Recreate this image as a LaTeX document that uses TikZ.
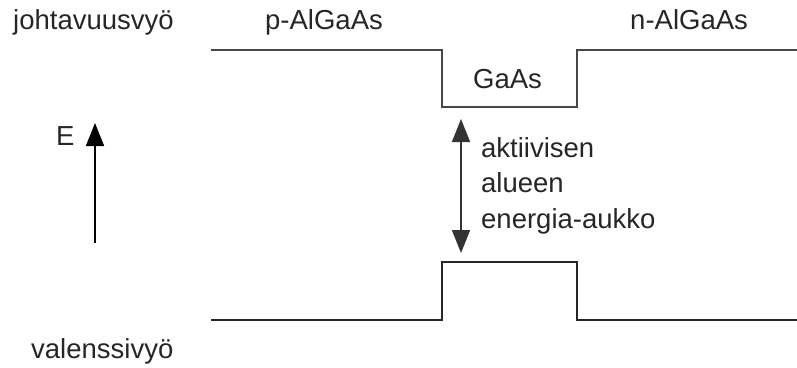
\documentclass[tikz,border=0pt]{standalone}
\usepackage{fontspec}
\setmainfont{Liberation Sans}
\usetikzlibrary{arrows.meta}
\begin{document}
\begin{tikzpicture}[x=1pt,y=-1pt,
  lbl/.style={anchor=base west,inner sep=0pt,text=black!85,font=\fontsize{27.5}{35.5}\selectfont},
  band/.style={draw=black!72,line width=2pt,line join=miter},
  energyarrow/.style={draw=black,line width=1.6pt,-{Triangle[length=23pt,width=18pt]}},
  gaparrow/.style={draw=black!80,line width=1.6pt,{Triangle[length=23pt,width=18pt]}-{Triangle[length=23pt,width=18pt]}}]
\useasboundingbox (0,0) rectangle (797,367);
% labels
\node[lbl] (cb) at (13,29) {johtavuusvyö};
\node[lbl] (pal) at (265,29) {p-AlGaAs};
\node[lbl] (nal) at (630,29) {n-AlGaAs};
\node[lbl] (gaas) at (473,88) {GaAs};
\node[lbl] (vb) at (31,358) {valenssivyö};
\node[lbl] (E) at (56,145) {E};
% a multi-line node sits on the baseline of its last line
\node[lbl,align=left] (gap) at (481,228) {aktiivisen\\alueen\\energia-aukko};
% conduction band edge
\draw[band] (211,50) -- (442,50) -- (442,107) -- (577,107) -- (577,50) -- (797,50);
% valence band edge
\draw[band,draw=black!85,line width=1.8pt] (211,320) -- (442,320) -- (442,262) -- (577,262) -- (577,320) -- (797,320);
% energy axis
\coordinate (Ebot) at (95,243);
\coordinate (Etop) at (95,123);
\draw[energyarrow] (Ebot) -- (Etop);
% band gap of the active region
\coordinate (gtop) at (461,119);
\coordinate (gbot) at (461,253);
\draw[gaparrow] (gtop) -- (gbot);
\end{tikzpicture}
\end{document}
